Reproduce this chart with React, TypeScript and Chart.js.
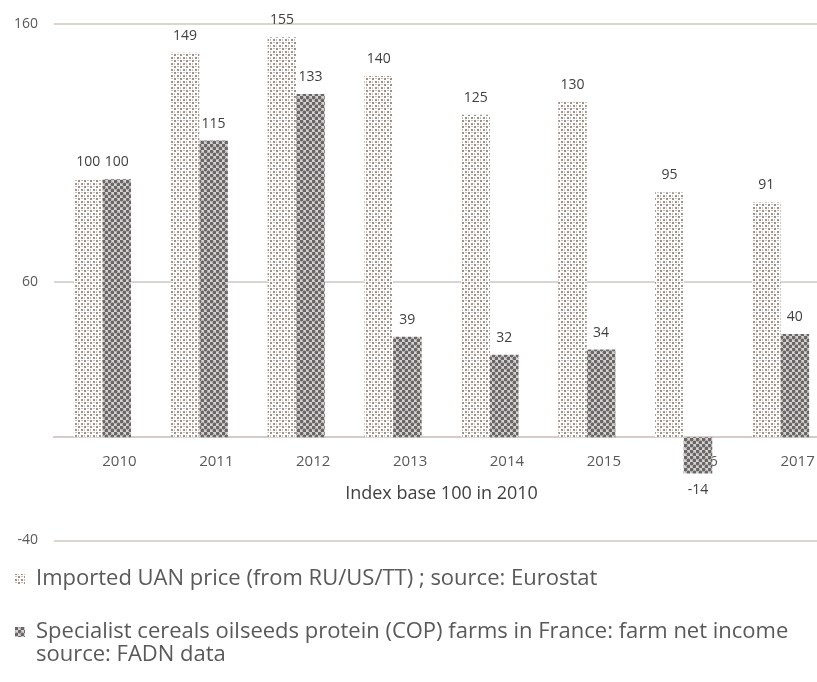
import React, { useEffect, useRef } from "react";
import { Chart, registerables } from "chart.js";

Chart.register(...registerables);

const categories = ["2010", "2011", "2012", "2013", "2014", "2015", "2016", "2017"];
const uanPrice = [100, 149, 155, 140, 125, 130, 95, 91];
const copIncome = [100, 115, 133, 39, 32, 34, -14, 40];
const yTicks = [-40, 60, 160];
const seriesNames = [
  ["Imported UAN price (from RU/US/TT) ; source: Eurostat"],
  ["Specialist cereals oilseeds protein (COP) farms in France: farm net income", "source: FADN data"],
];
const xTitle = "Index base 100 in 2010";

const FONT = "'Open Sans', 'Liberation Sans', sans-serif";

function makeLightPattern(): CanvasPattern | string {
  const c = document.createElement("canvas");
  c.width = 6;
  c.height = 6;
  const g = c.getContext("2d");
  if (!g) return "#cfc8c3";
  g.fillStyle = "#ffffff";
  g.fillRect(0, 0, 6, 6);
  g.fillStyle = "#9c928c";
  g.fillRect(0, 0, 2, 2);
  g.fillRect(3, 3, 2, 2);
  g.fillStyle = "#c6bdb8";
  g.fillRect(3, 0, 2, 1);
  g.fillRect(0, 3, 1, 2);
  const p = g.createPattern(c, "repeat");
  return p || "#cfc8c3";
}

function makeDarkPattern(): CanvasPattern | string {
  const c = document.createElement("canvas");
  c.width = 6;
  c.height = 6;
  const g = c.getContext("2d");
  if (!g) return "#888";
  g.fillStyle = "#d4d2d2";
  g.fillRect(0, 0, 6, 6);
  g.fillStyle = "#6a6666";
  g.beginPath();
  g.arc(1.5, 1.5, 1.9, 0, Math.PI * 2);
  g.fill();
  g.beginPath();
  g.arc(4.5, 4.5, 1.9, 0, Math.PI * 2);
  g.fill();
  const p = g.createPattern(c, "repeat");
  return p || "#888";
}

const valueLabels = {
  id: "valueLabels",
  afterDatasetsDraw(chart: any) {
    const ctx = chart.ctx;
    ctx.save();
    ctx.font = `14px ${FONT}`;
    ctx.fillStyle = "#404040";
    ctx.textAlign = "center";
    ctx.textBaseline = "middle";
    chart.data.datasets.forEach((ds: any, di: number) => {
      const meta = chart.getDatasetMeta(di);
      meta.data.forEach((el: any, i: number) => {
        const v = ds.data[i];
        const y = v >= 0 ? el.y - 17 : el.y + 17;
        ctx.fillText(String(v), el.x, y);
      });
    });
    ctx.restore();
  },
};

const legendShift = {
  id: "legendShift",
  afterLayout(chart: any) {
    const lg = chart.legend;
    if (!lg) return;
    lg.top -= 3.5;
    lg.bottom += 24;
    lg.height = lg.bottom - lg.top;
    lg.left -= 16;
    lg.right -= 16;
  },
};

export default function App() {
  const ref = useRef<HTMLCanvasElement | null>(null);

  useEffect(() => {
    if (!ref.current) return;
    const light = makeLightPattern();
    const dark = makeDarkPattern();
    const chart = new Chart(ref.current, {
      type: "bar",
      data: {
        labels: categories,
        datasets: [
          {
            label: seriesNames[0][0],
            data: uanPrice,
            backgroundColor: light as any,
            borderWidth: 0,
            barPercentage: 1,
            categoryPercentage: 0.59,
          },
          {
            label: seriesNames[1][0],
            data: copIncome,
            backgroundColor: dark as any,
            borderWidth: 0,
            barPercentage: 1,
            categoryPercentage: 0.59,
          },
        ],
      },
      options: {
        animation: false,
        responsive: true,
        maintainAspectRatio: false,
        layout: { padding: { top: 23, right: 1, left: 0, bottom: 25.5 } },
        plugins: {
          tooltip: { enabled: false },
          legend: {
            position: "bottom",
            align: "start",
            labels: {
              font: { family: FONT, size: 22, lineHeight: 1.05 },
              color: "#595959",
              boxWidth: 10,
              boxHeight: 10,
              padding: 31,
              generateLabels: (ch: any) =>
                ch.data.datasets.map((ds: any, i: number) => ({
                  text: seriesNames[i].length > 1 ? seriesNames[i] : seriesNames[i][0],
                  fillStyle: ds.backgroundColor,
                  strokeStyle: "rgba(0,0,0,0)",
                  lineWidth: 0,
                  fontColor: "#595959",
                  hidden: false,
                  datasetIndex: i,
                })),
            },
          },
        },
        scales: {
          x: {
            type: "category",
            position: { y: 0 } as any,
            grid: { display: false },
            border: { display: true, color: "#d3ccc8", width: 2 },
            ticks: {
              font: { family: FONT, size: 15 },
              color: "#595959",
              padding: 7,
              labelOffset: 17,
              maxRotation: 0,
            },
            title: {
              display: true,
              text: xTitle,
              font: { family: FONT, size: 18 },
              color: "#404040",
              padding: { top: 6, bottom: 0 },
            },
          },
          y: {
            min: -40,
            max: 160,
            afterBuildTicks: (scale: any) => {
              scale.ticks = yTicks.map((v) => ({ value: v }));
            },
            afterFit: (scale: any) => {
              scale.width = 54;
            },
            grid: { color: "#dbd5d1", lineWidth: 2, drawTicks: false },
            border: { display: false },
            ticks: {
              font: { family: FONT, size: 14 },
              color: "#595959",
              padding: 16,
            },
          },
        },
      },
      plugins: [valueLabels, legendShift],
    });
    return () => chart.destroy();
  }, []);

  return (
    <div
      style={{
        position: "absolute",
        left: 0,
        top: 0,
        width: 817,
        height: 682,
        overflow: "hidden",
        background: "#ffffff",
      }}
    >
      <div style={{ position: "relative", width: 830, height: 682 }}>
        <canvas ref={ref} />
      </div>
    </div>
  );
}
